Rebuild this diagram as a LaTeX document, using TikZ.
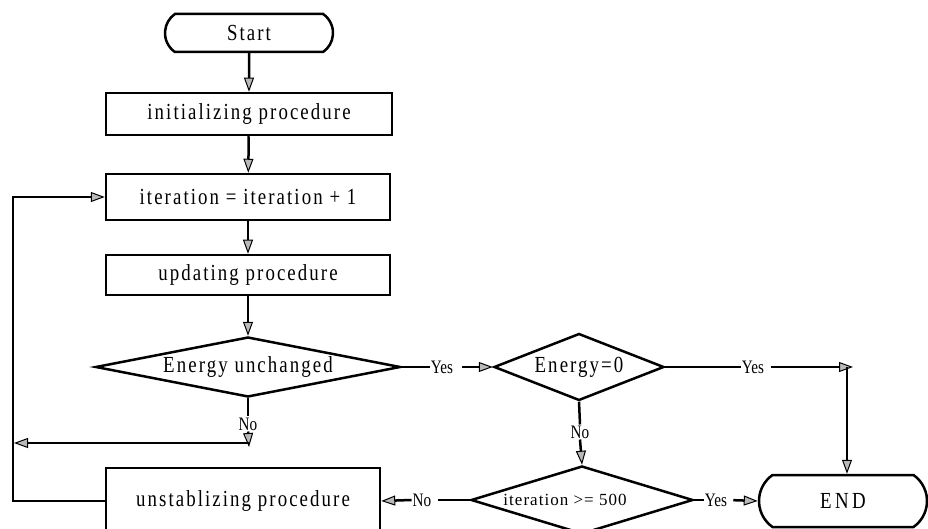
\documentclass[tikz,border=0pt]{standalone}
\usepackage{fontspec}
\setmainfont{Liberation Serif}
\usepackage{tikz}
\usetikzlibrary{arrows.meta, positioning, shapes.geometric, shapes.misc}
\newcommand{\boxtxt}{\fontsize{23}{26}\selectfont\addfontfeature{FakeStretch=0.82, LetterSpace=9}}
\newcommand{\stoptxt}{\fontsize{23}{26}\selectfont\addfontfeature{FakeStretch=0.82, LetterSpace=15}}
\newcommand{\smalltxt}{\fontsize{17}{20}\selectfont\addfontfeature{LetterSpace=6}}
\newcommand{\lbltxt}{\fontsize{19}{21}\selectfont\addfontfeature{FakeStretch=0.8}}
\tikzset{
	flowline/.style={line width=2.5pt, black},
	arr/.style={flowline, -{Triangle[length=14pt, width=10pt, fill=gray!55, line width=1pt]}},
	procbox/.style={draw, line width=2.5pt, rectangle, inner sep=0pt, font=\boxtxt},
	termbox/.style={draw, line width=2.5pt, rounded rectangle, rounded rectangle arc length=110, inner sep=0pt, font=\boxtxt},
	testbox/.style={draw, line width=2.5pt, diamond, inner sep=0pt, font=\boxtxt},
	lbl/.style={inner sep=1pt, font=\lbltxt},
}
\begin{document}
\begin{tikzpicture}[x=1pt, y=1pt]
		\useasboundingbox (0,0) rectangle (928,-529);
			%boxes:
			\node[termbox, minimum width=168pt, minimum height=38pt] (start) at (249,-33) {Start};
			\node[procbox, minimum width=286pt, minimum height=42pt] (init) at (249,-114) {initializing procedure};
			\node[procbox, minimum width=284pt, minimum height=46pt] (iter) at (248,-197) {iteration = iteration + 1};
			\node[procbox, minimum width=284pt, minimum height=40pt] (update) at (248,-275) {updating procedure};
			\node[procbox, minimum width=274pt, minimum height=66pt] (unstab) at (243,-501) {unstablizing procedure};
			\node[termbox, font=\stoptxt, minimum width=168pt, minimum height=52pt] (finish) at (843,-501) {END};

			%tests:
			\node[testbox, aspect=5, minimum width=305pt, minimum height=60pt] (echk) at (248,-367) {Energy unchanged};
			\node[testbox, aspect=2.5, minimum width=170pt, minimum height=67pt] (ezero) at (579,-367) {Energy=0};
			\node[testbox, aspect=3.4, font=\smalltxt, minimum width=222pt, minimum height=68pt] (itchk) at (582,-500) {\hspace*{-34pt}iteration >= 500};

			%labels:
			\node[lbl] (yesa) at (442,-367) {Yes};
			\node[lbl] (yesb) at (753,-367) {Yes};
			\node[lbl] (yesc) at (716,-500) {Yes};
			\node[lbl] (noa) at (248,-424) {No};
			\node[lbl] (nob) at (580,-432) {No};
			\node[lbl] (noc) at (422,-500) {No};
			\coordinate (ytip) at (853,-367);
			\coordinate (ycorner) at (847,-367);
			\coordinate (nojoin) at (249,-447);
			\coordinate (nostop) at (14,-443);
			\coordinate (loopt) at (13,-197);

			%main line:
			\draw[arr] (start) -- (init);
			\draw[arr] (init) -- (iter);
			\draw[arr] (iter) -- (update);
			\draw[arr] (update) -- (echk);

			%yes branches:
			\draw[flowline] (echk.east) -- (yesa.west);
			\draw[arr, shorten <=8pt] (yesa.east) -- (ezero.west);
			\draw[flowline] (ezero.east) -- (yesb.west);
			\draw[arr, shorten <=6pt] (yesb.east) -- (ytip);
			\draw[arr] (ycorner) -- (ycorner |- finish.north);
			\draw[flowline] (itchk.east) -- (yesc.west);
			\draw[arr, shorten <=5pt] (yesc.east) -- (finish.west);

			%no branches:
			\draw[flowline] (echk.south) -- (noa.north);
			\draw[arr] (noa.south) -- (nojoin);
			\draw[arr] (nojoin |- nostop) -- (nostop);
			\draw[flowline] (ezero.south) -- (nob.north);
			\draw[arr] (nob.south) -- (itchk.north);
			\draw[flowline, shorten <=6pt] (noc.east) -- (itchk.west);
			\draw[arr] (noc.west) -- (unstab.east);

			%loop back:
			\draw[arr] (unstab.west) -| (loopt) -- (iter.west);
	\end{tikzpicture}
\end{document}
